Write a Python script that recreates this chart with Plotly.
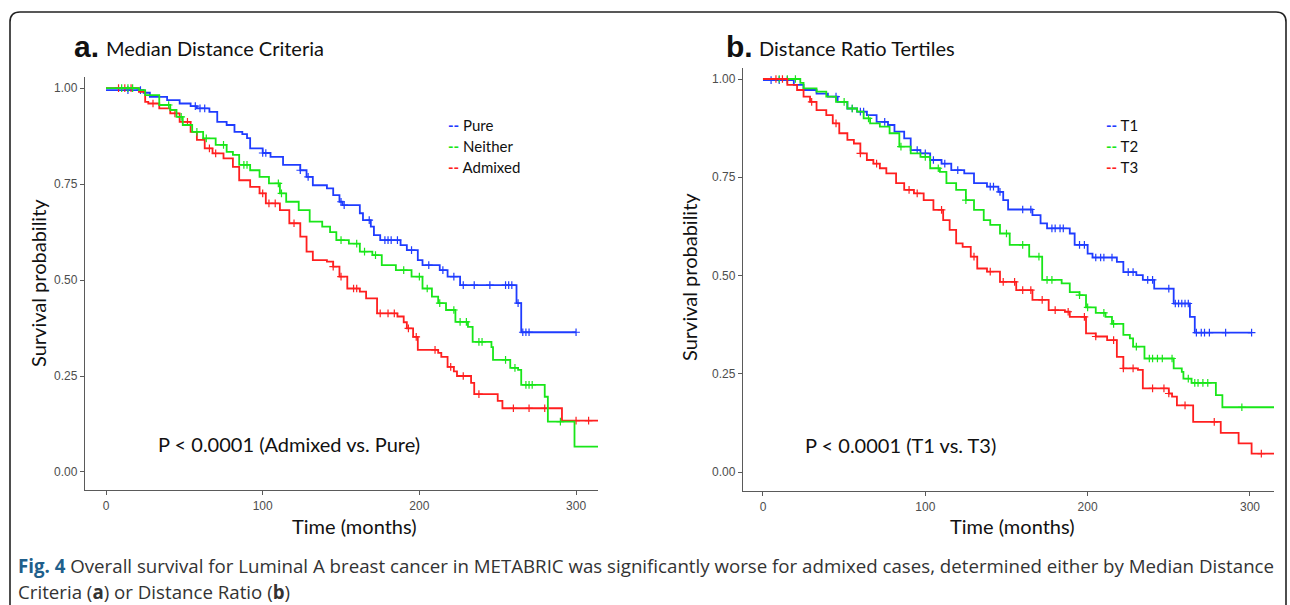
import plotly.graph_objects as go

W, H = 1290, 605

# ---------------- Panel a: Median Distance Criteria ----------------
pure_t = [0, 24, 28, 39, 47, 54, 58, 66, 71, 77, 82, 87, 90, 92, 100, 105, 113, 124, 128, 132, 141, 145,
          149, 151, 162, 164, 169, 171, 175, 188, 192, 199, 202, 213, 218, 226, 262, 265, 300]
pure_s = [0.995, 0.988, 0.977, 0.969, 0.960, 0.953, 0.947, 0.938, 0.912, 0.904, 0.886, 0.880, 0.870, 0.843,
          0.831, 0.821, 0.800, 0.786, 0.769, 0.747, 0.739, 0.721, 0.704, 0.695, 0.674, 0.656, 0.639, 0.617,
          0.604, 0.591, 0.578, 0.552, 0.539, 0.526, 0.509, 0.487, 0.440, 0.364, 0.364]
pure_cens = [14, 22, 57, 60, 63, 100, 102, 124, 129, 150, 152, 168, 178, 180, 182, 186, 195, 206, 215,
             222, 228, 235, 245, 255, 257, 259, 263, 266, 268, 270, 300]

neither_t = [0, 21, 25, 34, 41, 45, 49, 55, 62, 70, 77, 81, 85, 92, 98, 104, 111, 115, 123, 130, 138, 143,
             147, 155, 162, 170, 176, 185, 195, 202, 208, 212, 217, 223, 231, 234, 246, 247, 258, 263, 265,
             280, 282, 299, 314]
neither_s = [1.0, 0.995, 0.982, 0.956, 0.943, 0.925, 0.904, 0.886, 0.869, 0.852, 0.834, 0.826, 0.800, 0.786,
             0.769, 0.752, 0.726, 0.704, 0.682, 0.652, 0.639, 0.625, 0.604, 0.595, 0.574, 0.565, 0.539, 0.526,
             0.509, 0.478, 0.457, 0.440, 0.422, 0.391, 0.378, 0.339, 0.325, 0.292, 0.271, 0.266, 0.227, 0.196,
             0.131, 0.066, 0.066]
neither_cens = [10, 14, 17, 40, 48, 58, 64, 75, 88, 90, 110, 112, 150, 160, 165, 172, 190, 200, 205, 213,
                222, 226, 230, 238, 240, 255, 261, 268, 270, 272, 290]

admixed_t = [0, 21, 25, 27, 34, 41, 47, 54, 58, 63, 68, 75, 81, 85, 92, 98, 102, 111, 117, 124, 128, 132,
             141, 145, 149, 154, 162, 166, 173, 186, 190, 192, 196, 199, 212, 214, 218, 222, 224, 233, 235,
             250, 253, 291, 314]
admixed_s = [1.0, 0.990, 0.964, 0.960, 0.947, 0.934, 0.912, 0.886, 0.865, 0.843, 0.830, 0.817, 0.795, 0.760,
             0.743, 0.726, 0.700, 0.682, 0.648, 0.613, 0.574, 0.552, 0.548, 0.535, 0.509, 0.478, 0.470, 0.452,
             0.413, 0.405, 0.390, 0.374, 0.352, 0.318, 0.310, 0.300, 0.274, 0.262, 0.250, 0.232, 0.203, 0.185,
             0.166, 0.134, 0.134]
admixed_cens = [8, 12, 16, 30, 44, 52, 66, 70, 100, 104, 108, 120, 145, 150, 158, 160, 175, 180, 184, 193,
                198, 210, 220, 228, 238, 260, 270, 280, 300, 308]

# ---------------- Panel b: Distance Ratio Tertiles ----------------
t1_t = [0, 19, 25, 33, 40, 46, 52, 58, 64, 70, 77, 81, 87, 91, 97, 103, 110, 116, 124, 130, 138, 145, 148,
        151, 166, 171, 175, 189, 192, 200, 203, 218, 222, 230, 234, 241, 253, 263, 266, 301]
t1_s = [0.997, 0.985, 0.972, 0.963, 0.955, 0.942, 0.925, 0.917, 0.908, 0.891, 0.883, 0.866, 0.849, 0.819,
        0.811, 0.794, 0.785, 0.768, 0.760, 0.735, 0.726, 0.713, 0.692, 0.668, 0.654, 0.633, 0.620, 0.607,
        0.578, 0.556, 0.546, 0.535, 0.509, 0.501, 0.489, 0.467, 0.429, 0.395, 0.355, 0.355]
t1_cens = [5, 10, 15, 45, 55, 60, 62, 75, 95, 100, 105, 112, 120, 140, 142, 146, 160, 165, 178, 180, 183,
           185, 195, 198, 205, 208, 210, 215, 225, 228, 237, 240, 250, 254, 256, 258, 260, 262, 267, 270,
           272, 275, 285, 301]

t2_t = [0, 23, 25, 33, 39, 45, 52, 58, 62, 66, 72, 78, 84, 91, 97, 103, 109, 113, 119, 125, 130, 136, 140,
        146, 152, 164, 172, 184, 189, 195, 199, 205, 211, 215, 222, 226, 228, 235, 253, 258, 259, 264, 279,
        283, 315]
t2_s = [1.0, 0.990, 0.976, 0.968, 0.955, 0.942, 0.925, 0.917, 0.900, 0.887, 0.879, 0.862, 0.828, 0.811,
        0.802, 0.773, 0.764, 0.735, 0.718, 0.692, 0.667, 0.641, 0.629, 0.607, 0.578, 0.548, 0.489, 0.480,
        0.458, 0.450, 0.419, 0.405, 0.395, 0.377, 0.349, 0.340, 0.319, 0.289, 0.264, 0.255, 0.238, 0.227,
        0.196, 0.165, 0.165]
t2_cens = [10, 15, 20, 50, 55, 65, 85, 100, 108, 125, 150, 160, 170, 175, 178, 195, 200, 210, 216, 230,
           238, 240, 243, 246, 252, 262, 266, 268, 271, 274, 295]

t3_t = [0, 15, 21, 25, 29, 33, 39, 43, 47, 52, 56, 60, 64, 68, 72, 76, 82, 87, 93, 99, 105, 111, 115, 119,
        123, 128, 132, 138, 146, 156, 166, 176, 186, 189, 199, 205, 212, 218, 222, 231, 234, 250, 252, 255,
        265, 282, 293, 301, 315]
t3_s = [1.0, 0.985, 0.972, 0.955, 0.942, 0.921, 0.908, 0.887, 0.862, 0.845, 0.836, 0.811, 0.794, 0.785,
        0.773, 0.760, 0.735, 0.718, 0.709, 0.692, 0.667, 0.641, 0.616, 0.582, 0.573, 0.548, 0.518, 0.510,
        0.484, 0.463, 0.438, 0.412, 0.408, 0.395, 0.353, 0.345, 0.336, 0.293, 0.264, 0.260, 0.213, 0.200,
        0.192, 0.170, 0.128, 0.100, 0.073, 0.047, 0.047]
t3_cens = [8, 12, 30, 45, 60, 70, 90, 95, 110, 130, 140, 148, 155, 160, 165, 172, 180, 188, 198, 205, 216,
           222, 228, 240, 247, 250, 260, 278, 307]

y_ticks = [0.0, 0.25, 0.5, 0.75, 1.0]
y_ticktext = ["0.00", "0.25", "0.50", "0.75", "1.00"]
x_ticks = [0, 100, 200, 300]

BLUE, GREEN, RED = "#1f3cff", "#19e619", "#ff1f1f"


def step_at(ts, ss, c):
    val = ss[0]
    for t, s in zip(ts, ss):
        if t <= c:
            val = s
        else:
            break
    return val


fig = go.Figure()


def add_curve(ts, ss, cens, color, xa, ya):
    fig.add_trace(go.Scatter(x=ts, y=ss, mode="lines", line=dict(color=color, width=1.8, shape="hv"),
                             xaxis=xa, yaxis=ya, showlegend=False, hoverinfo="skip"))
    fig.add_trace(go.Scatter(x=cens, y=[step_at(ts, ss, c) for c in cens], mode="markers",
                             marker=dict(symbol="cross-thin", size=5.5, line=dict(color=color, width=1.2)),
                             xaxis=xa, yaxis=ya, showlegend=False, hoverinfo="skip"))


add_curve(pure_t, pure_s, pure_cens, BLUE, "x", "y")
add_curve(admixed_t, admixed_s, admixed_cens, RED, "x", "y")
add_curve(neither_t, neither_s, neither_cens, GREEN, "x", "y")

add_curve(t1_t, t1_s, t1_cens, BLUE, "x2", "y2")
add_curve(t2_t, t2_s, t2_cens, GREEN, "x2", "y2")
add_curve(t3_t, t3_s, t3_cens, RED, "x2", "y2")


def px(x):
    return x / W


def py(y):
    return 1 - y / H


AX = "#5a5a5a"
tickfont = dict(family="Liberation Sans, Arial", size=12, color="#4d4d4d")
xcommon = dict(tickvals=x_ticks, ticks="outside", ticklen=4, tickcolor=AX, showline=True, linecolor=AX,
               linewidth=1.3, showgrid=False, zeroline=False, tickfont=tickfont)
ycommon = dict(tickvals=y_ticks, ticktext=y_ticktext, ticks="outside", ticklen=4, tickcolor=AX,
               showline=True, linecolor=AX, linewidth=1.3, showgrid=False, zeroline=False, tickfont=tickfont)

fig.update_layout(
    width=W, height=H, margin=dict(l=0, r=0, t=0, b=0),
    paper_bgcolor="white", plot_bgcolor="white",
    xaxis=dict(domain=[px(85), px(598)], range=[-13.4, 314], anchor="y", **xcommon),
    yaxis=dict(domain=[py(490), py(77)], range=[-0.047, 1.029], anchor="x", **ycommon),
    xaxis2=dict(domain=[px(743), px(1274)], range=[-12.3, 314.8], anchor="y2", **xcommon),
    yaxis2=dict(domain=[py(491), py(68)], range=[-0.048, 1.028], anchor="x2", **ycommon),
)

# frame
r = 10
x0, x1, y0, y1 = 10, 1286, 12, 620
path = (f"M {px(x0)},{py(y1)} L {px(x0)},{py(y0 + r)} Q {px(x0)},{py(y0)} {px(x0 + r)},{py(y0)} "
        f"L {px(x1 - r)},{py(y0)} Q {px(x1)},{py(y0)} {px(x1)},{py(y0 + r)} L {px(x1)},{py(y1)}")
fig.add_shape(type="path", path=path, xref="paper", yref="paper", line=dict(color="#222", width=1.6))

TF = "Lato, Open Sans, sans-serif"
anns = []


def ann(x, y, text, size, font=TF, color="#111", xanchor="left", textangle=0):
    anns.append(dict(x=px(x), y=py(y), xref="paper", yref="paper", text=text, showarrow=False,
                     xanchor=xanchor, yanchor="middle", textangle=textangle,
                     font=dict(family=font, size=size, color=color)))


# panel titles
ann(72, 46, "<b>a.</b>", 30, font="Liberation Sans, Arial")
ann(104, 48, "Median Distance Criteria", 20)
ann(724, 46, "<b>b.</b>", 30, font="Liberation Sans, Arial")
ann(757, 48, "Distance Ratio Tertiles", 20)

# axis titles
ann(354, 526, "Time (months)", 20, xanchor="center")
ann(1012, 526, "Time (months)", 20, xanchor="center")
ann(38, 283, "Survival probability", 20, xanchor="center", textangle=-90)
ann(689, 277, "Survival probability", 20, xanchor="center", textangle=-90)

# legends
for (lbl, col, yy) in [("Pure", BLUE, 125), ("Neither", GREEN, 146), ("Admixed", RED, 167)]:
    ann(446, yy, f"<b><span style='color:{col}'>--</span></b> {lbl}", 15)
for (lbl, col, yy) in [("T1", BLUE, 125), ("T2", GREEN, 146), ("T3", RED, 167)]:
    ann(1104, yy, f"<b><span style='color:{col}'>--</span></b> {lbl}", 15)

# p-values
ann(156, 444, "P &lt; 0.0001 (Admixed vs. Pure)", 20)
ann(803, 445, "P &lt; 0.0001 (T1 vs. T3)", 20)

# caption
CF = "Open Sans, sans-serif"
ann(16, 565, "<b><span style='color:#1f5f8b'>Fig. 4</span></b> Overall survival for Luminal A breast cancer "
             "in METABRIC was significantly worse for admixed cases, determined either by Median Distance", 18.7,
    font=CF, color="#333")
ann(16, 591, "Criteria (<b>a</b>) or Distance Ratio (<b>b</b>)", 18.7, font=CF, color="#333")

fig.update_layout(annotations=anns)
fig.write_html("out.html")
